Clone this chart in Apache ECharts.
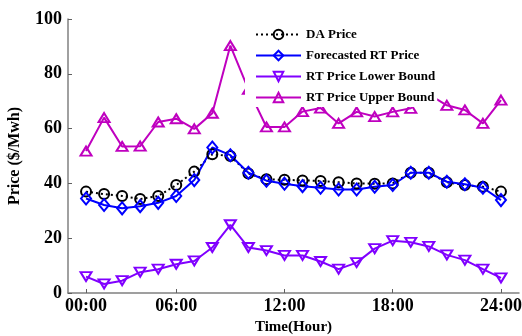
<!DOCTYPE html>
<html>
<head>
<meta charset="utf-8">
<script src="https://cdn.jsdelivr.net/npm/echarts@6/dist/echarts.min.js"></script>
<style>
  html, body { margin: 0; padding: 0; background: #fff; }
  #chart { width: 522px; height: 336px; }
</style>
</head>
<body>
<div id="chart"></div>
<script>
// Hour index of each sample (the axis starts its clock at sample 1)
const hours = [1, 2, 3, 4, 5, 6, 7, 8, 9, 10, 11, 12, 13, 14, 15, 16, 17, 18, 19, 20, 21, 22, 23, 24];

// Prices in $/MWh
const daPrice = [37.0, 36.1, 35.4, 34.3, 35.4, 39.4, 44.3, 50.6, 50.0, 43.6, 41.5, 41.3, 41.1, 40.9, 40.4, 40.0, 39.9, 40.0, 43.9, 43.9, 40.4, 39.4, 38.8, 37.0];
const forecastRt = [34.5, 32.1, 30.9, 31.7, 32.9, 35.4, 41.2, 53.1, 50.3, 43.9, 41.0, 39.9, 39.0, 38.4, 37.8, 37.8, 38.8, 39.4, 43.9, 43.9, 40.6, 39.7, 38.4, 33.9];
const rtLower = [6.0, 3.3, 4.5, 7.6, 8.7, 10.5, 11.7, 16.6, 24.9, 16.6, 15.5, 13.7, 13.7, 11.5, 8.7, 11.1, 16.2, 19.1, 18.5, 17.0, 13.9, 12.0, 8.7, 5.5];
const rtUpper = [51.8, 64.0, 53.5, 53.6, 62.4, 63.6, 59.9, 65.6, 90.3, 74.3, 60.6, 60.6, 66.2, 67.5, 61.9, 66.1, 64.4, 66.1, 67.4, 72.5, 68.5, 66.8, 61.9, 70.4];

// X-axis ticks and their clock labels
const xTickHours = [1, 6, 12, 18, 24];
const xTickLabels = ['00:00', '06:00', '12:00', '18:00', '24:00'];

const seriesNames = ['DA Price', 'Forecasted RT Price', 'RT Price Lower Bound', 'RT Price Upper Bound'];

const serif = '"Liberation Serif", "Times New Roman", Times, serif';

function pairs(values) {
  return hours.map((h, i) => [h, values[i]]);
}

function lineSeries(name, values, color, symbol, size, lineType, rotate) {
  return {
    name: name,
    type: 'line',
    data: pairs(values),
    symbol: symbol,
    symbolSize: size,
    symbolRotate: rotate || 0,
    showAllSymbol: true,
    lineStyle: { color: color, width: 2, type: lineType },
    itemStyle: { color: 'transparent', borderColor: color, borderWidth: 2 },
    emphasis: { disabled: true }
  };
}

const chart = echarts.init(document.getElementById('chart'), null, { renderer: 'canvas' });

chart.setOption({
  animation: false,
  backgroundColor: '#ffffff',
  grid: { left: 68, right: 3, top: 19, bottom: 43, containLabel: false, outerBoundsMode: 'none' },
  legend: {
    data: seriesNames,
    orient: 'vertical',
    left: 245,
    top: 24,
    padding: [4, 2, 3, 10],
    itemWidth: 45,
    itemHeight: 12,
    itemGap: 8,
    backgroundColor: '#ffffff',
    textStyle: { fontFamily: serif, fontWeight: 'bold', fontSize: 13, color: '#000' }
  },
  xAxis: {
    type: 'value',
    min: 0,
    max: 25,
    name: 'Time(Hour)',
    nameLocation: 'middle',
    nameGap: 27,
    nameTextStyle: { fontFamily: serif, fontWeight: 'bold', fontSize: 15, color: '#000' },
    axisLine: { show: true, lineStyle: { color: '#808080', width: 1.5 } },
    axisTick: { show: true, inside: true, length: 4, customValues: xTickHours, lineStyle: { color: '#606060', width: 1 } },
    axisLabel: {
      customValues: xTickHours,
      margin: 4,
      fontFamily: serif, fontWeight: 'bold', fontSize: 18, color: '#000',
      formatter: v => xTickLabels[xTickHours.indexOf(v)]
    },
    splitLine: { show: false }
  },
  yAxis: {
    type: 'value',
    min: 0,
    max: 100,
    interval: 20,
    name: 'Price ($/Mwh)',
    nameLocation: 'middle',
    nameGap: 45,
    nameTextStyle: { fontFamily: serif, fontWeight: 'bold', fontSize: 16, color: '#000' },
    axisLine: { show: true, lineStyle: { color: '#808080', width: 1.5 } },
    axisTick: { show: true, inside: true, length: 4, lineStyle: { color: '#606060', width: 1 } },
    axisLabel: { margin: 6, fontFamily: serif, fontWeight: 'bold', fontSize: 18, color: '#000' },
    splitLine: { show: false }
  },
  series: [
    lineSeries(seriesNames[0], daPrice, '#000000', 'circle', 10, [2, 3]),
    lineSeries(seriesNames[1], forecastRt, '#0000ff', 'diamond', [10, 12], 'solid'),
    lineSeries(seriesNames[2], rtLower, '#8000ff', 'triangle', [11, 9], 'solid', 180),
    lineSeries(seriesNames[3], rtUpper, '#bf00bf', 'triangle', [11, 9], 'solid')
  ]
});
</script>
</body>
</html>
